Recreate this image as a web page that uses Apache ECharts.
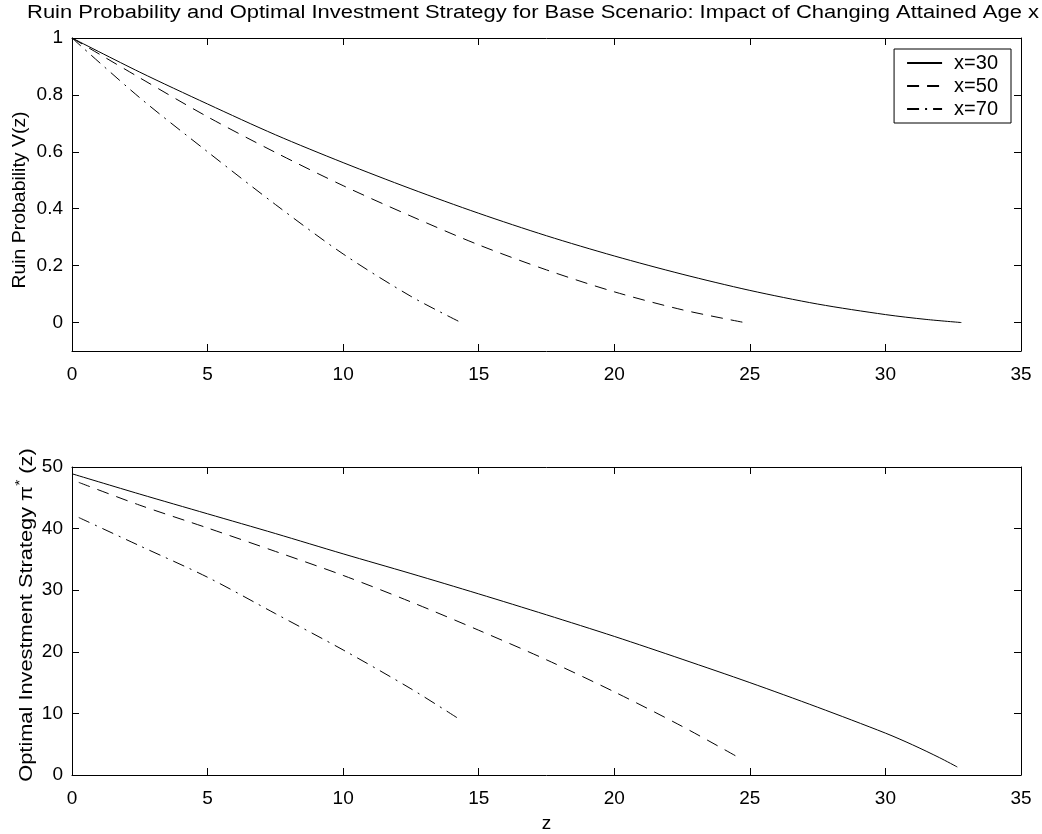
<!DOCTYPE html>
<html>
<head>
<meta charset="utf-8">
<script src="https://cdn.jsdelivr.net/npm/echarts@6/dist/echarts.min.js"></script>
<style>html,body{margin:0;padding:0;background:#fff;}#chart{width:1042px;height:834px;}</style>
</head>
<body>
<div id="chart"></div>
<script>
// ---- Data ----
const titleText = 'Ruin Probability and Optimal Investment Strategy for Base Scenario: Impact of Changing Attained Age x';
const topYName = 'Ruin Probability V(z)';
const bottomYName = 'Optimal Investment Strategy π{sup|*} (z)';
const xName = 'z';
const seriesNames = ['x=30', 'x=50', 'x=70'];

// Top panel: ruin probability V(z)
const zV30 = [0, 2.5, 5, 7.5, 10, 12.5, 15, 17.5, 20, 22.5, 25, 27.5, 30, 31.5, 32.8];
const V30  = [1, 0.88, 0.768, 0.66, 0.562, 0.47, 0.384, 0.305, 0.234, 0.17, 0.113, 0.065, 0.028, 0.011, 0];
const zV50 = [0, 2.5, 5, 7.5, 10, 12.5, 15, 17.5, 20, 22.5, 24.8];
const V50  = [1, 0.86, 0.723, 0.598, 0.481, 0.374, 0.273, 0.185, 0.108, 0.045, 0];
const zV70 = [0, 2.5, 5, 7.5, 10, 12.5, 14.35];
const V70  = [1, 0.79, 0.60, 0.415, 0.241, 0.092, 0];

// Bottom panel: optimal investment strategy pi*(z)
const zP30 = [0, 2.5, 5, 7.5, 10, 12.5, 15, 17.5, 20, 22.5, 25, 27.5, 30, 31, 32, 32.65];
const P30  = [48.9, 45.6, 42.4, 39.2, 35.9, 32.7, 29.4, 26.0, 22.5, 18.8, 15.0, 11.0, 6.8, 4.9, 2.8, 1.3];
const zP50 = [0.25, 2.5, 5, 7.5, 10, 12.5, 15, 17.5, 20, 22.5, 24.6];
const P50  = [47.5, 43.8, 40.1, 36.3, 32.4, 28.1, 23.5, 18.7, 13.5, 7.9, 2.8];
const zP70 = [0.25, 2.5, 5, 7.5, 10, 12.5, 14.2];
const P70  = [41.8, 37.2, 32.1, 26.2, 20.3, 14.0, 9.3];

const xTicks = [0, 5, 10, 15, 20, 25, 30, 35];
const vTicks = [0, 0.2, 0.4, 0.6, 0.8, 1];
const pTicks = [0, 10, 20, 30, 40, 50];

// ---- Styling ----
const FONT = 'Liberation Sans, Arial, Helvetica, sans-serif';
const TICK_FS = 19;
const lineTypes = ['solid', [12, 8], [12, 6, 2, 6]];
const pair = (xs, ys) => xs.map((x, i) => [x, ys[i]]);

function xAx(grid, pos, labels, extra) {
  return Object.assign({
    type: 'value', gridIndex: grid, position: pos, min: 0, max: 35,
    axisLine: { show: true, onZero: false, lineStyle: { color: '#000', width: 1 } },
    axisTick: { show: true, inside: true, length: 7, lineStyle: { color: '#000' }, customValues: xTicks },
    axisLabel: { show: labels, color: '#000', fontSize: TICK_FS, fontFamily: FONT, margin: 14, customValues: xTicks },
    splitLine: { show: false }
  }, extra || {});
}
function yAx(grid, pos, min, max, ticks, labels) {
  return {
    type: 'value', gridIndex: grid, position: pos, min: min, max: max,
    axisLine: { show: true, onZero: false, lineStyle: { color: '#000', width: 1 } },
    axisTick: { show: true, inside: true, length: 7, lineStyle: { color: '#000' }, customValues: ticks },
    axisLabel: { show: labels, color: '#000', fontSize: TICK_FS, fontFamily: FONT, margin: 9, customValues: ticks },
    splitLine: { show: false }
  };
}
function ser(name, x, y, data, type) {
  return {
    name: name, type: 'line', xAxisIndex: x, yAxisIndex: y, data: data,
    showSymbol: false, symbol: 'none', smooth: 0.3, animation: false,
    itemStyle: { color: '#000' },
    lineStyle: { color: '#000', width: 1, type: type }
  };
}

const chart = echarts.init(document.getElementById('chart'), null, { renderer: 'canvas' });
chart.setOption({
  backgroundColor: '#fff',
  animation: false,
  legend: {
    data: seriesNames, orient: 'vertical', right: 31, top: 49,
    itemWidth: 35, itemHeight: 18, itemGap: 3,
    padding: [4, 13, 4, 12],
    borderColor: '#000', borderWidth: 1, backgroundColor: '#fff',
    itemStyle: { color: 'rgba(0,0,0,0)', borderWidth: 0, opacity: 0 },
    textStyle: { color: '#000', fontSize: 20, fontFamily: FONT, padding: [0, 0, 0, 7] }
  },
  grid: [
    { left: 72, right: 21, top: 38, height: 313 },
    { left: 72, right: 21, top: 467, height: 313 }
  ],
  xAxis: [
    xAx(0, 'bottom', true),
    xAx(0, 'top', false),
    xAx(1, 'bottom', true, {
      name: xName, nameLocation: 'middle', nameGap: 39,
      nameTextStyle: { color: '#000', fontSize: 19, fontFamily: FONT }
    }),
    xAx(1, 'top', false)
  ],
  yAxis: [
    yAx(0, 'left', -0.1, 1, vTicks, true),
    yAx(0, 'right', -0.1, 1, vTicks, false),
    yAx(1, 'left', 0, 50, pTicks, true),
    yAx(1, 'right', 0, 50, pTicks, false)
  ],
  graphic: [
    {
      type: 'text', x: 533, y: 13, scaleX: 1.22, silent: true,
      style: { text: titleText, fontSize: 18, fontFamily: FONT, fill: '#000', align: 'center', verticalAlign: 'middle' }
    },
    {
      type: 'text', x: 20, y: 200, rotation: Math.PI / 2, scaleX: 1.08, silent: true,
      style: { text: topYName, fontSize: 18, fontFamily: FONT, fill: '#000', align: 'center', verticalAlign: 'middle' }
    },
    {
      type: 'text', x: 27, y: 615, rotation: Math.PI / 2, scaleX: 1.21, silent: true,
      style: {
        text: bottomYName, fontSize: 18, fontFamily: FONT, fill: '#000', align: 'center', verticalAlign: 'middle',
        lineHeight: 26,
        rich: { sup: { fontSize: 13, fontFamily: FONT, fill: '#000', verticalAlign: 'top', lineHeight: 26 } }
      }
    }
  ],
  series: [
    ser(seriesNames[0], 0, 0, pair(zV30, V30), lineTypes[0]),
    ser(seriesNames[1], 0, 0, pair(zV50, V50), lineTypes[1]),
    ser(seriesNames[2], 0, 0, pair(zV70, V70), lineTypes[2]),
    ser(seriesNames[0], 2, 2, pair(zP30, P30), lineTypes[0]),
    ser(seriesNames[1], 2, 2, pair(zP50, P50), lineTypes[1]),
    ser(seriesNames[2], 2, 2, pair(zP70, P70), lineTypes[2])
  ]
});
</script>
</body>
</html>
